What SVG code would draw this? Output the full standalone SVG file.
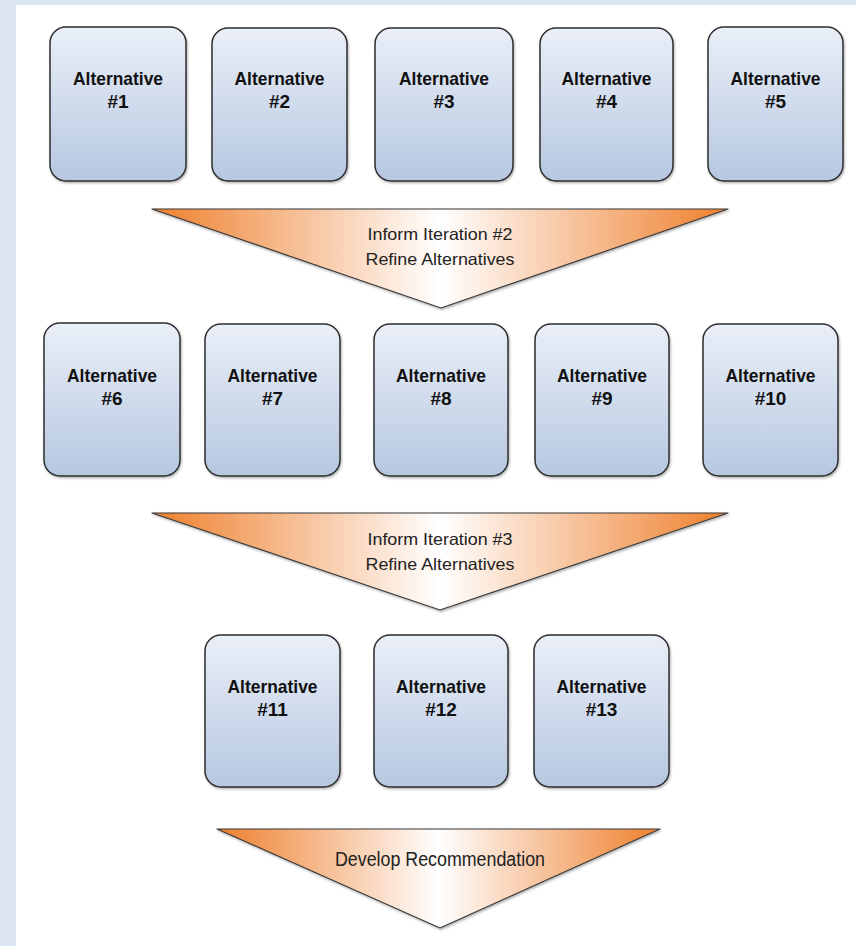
<svg xmlns="http://www.w3.org/2000/svg" width="856" height="946" viewBox="0 0 856 946">
<defs>
<linearGradient id="boxg" x1="0" y1="0" x2="0" y2="1">
<stop offset="0" stop-color="#eaeff8"/>
<stop offset="1" stop-color="#b6c7e0"/>
</linearGradient>
<linearGradient id="trig" x1="0" y1="0" x2="1" y2="0">
<stop offset="0" stop-color="#ee7f2d"/>
<stop offset="0.5" stop-color="#ffffff"/>
<stop offset="1" stop-color="#ee7f2d"/>
</linearGradient>
<filter id="sh" x="-10%" y="-10%" width="120%" height="120%">
<feDropShadow dx="1" dy="1.5" stdDeviation="1" flood-color="#000" flood-opacity="0.3"/>
</filter>
</defs>
<style>
.box{fill:url(#boxg);stroke:#2e2e2e;stroke-width:1.5;filter:url(#sh)}
.tri{fill:url(#trig);stroke:#3a3a3a;stroke-width:1.2;stroke-linejoin:round;filter:url(#sh)}
.bt{font-family:"Liberation Sans",Arial,sans-serif;font-weight:bold;font-size:19px;fill:#111;text-anchor:middle}
.tt{font-family:"Liberation Sans",Arial,sans-serif;font-size:16.5px;fill:#222;text-anchor:middle}
.dt{font-family:"Liberation Sans",Arial,sans-serif;font-size:19.5px;fill:#222;text-anchor:middle}
</style>
<rect x="0" y="0" width="856" height="946" fill="#dce6f2"/>
<rect x="16" y="5" width="840" height="941" fill="#ffffff"/>

<g id="connectors">
<g id="step1"><polygon class="tri" points="152,209 728,209 441,308"/>
<text class="tt" x="440" y="240" textLength="145" lengthAdjust="spacingAndGlyphs">Inform Iteration #2</text>
<text class="tt" x="440" y="265" textLength="149" lengthAdjust="spacingAndGlyphs">Refine Alternatives</text></g>
<g id="step2"><polygon class="tri" points="152,513 728,513 440,610"/>
<text class="tt" x="440" y="545" textLength="145" lengthAdjust="spacingAndGlyphs">Inform Iteration #3</text>
<text class="tt" x="440" y="570" textLength="149" lengthAdjust="spacingAndGlyphs">Refine Alternatives</text></g>
<g id="step3"><polygon class="tri" points="217,829 660,829 440,928"/>
<text class="dt" x="440" y="866" textLength="210" lengthAdjust="spacingAndGlyphs">Develop Recommendation</text></g>
</g>

<g id="alt1"><rect class="box" x="50" y="27" width="136" height="154" rx="16"/><text class="bt" x="118" y="85" textLength="90" lengthAdjust="spacingAndGlyphs">Alternative</text><text class="bt" x="118" y="108">#1</text></g>
<g id="alt2"><rect class="box" x="212" y="28" width="135" height="153" rx="16"/><text class="bt" x="279.5" y="85" textLength="90" lengthAdjust="spacingAndGlyphs">Alternative</text><text class="bt" x="279.5" y="108">#2</text></g>
<g id="alt3"><rect class="box" x="375" y="28" width="138" height="153" rx="16"/><text class="bt" x="444" y="85" textLength="90" lengthAdjust="spacingAndGlyphs">Alternative</text><text class="bt" x="444" y="108">#3</text></g>
<g id="alt4"><rect class="box" x="540" y="28" width="133" height="153" rx="16"/><text class="bt" x="606.5" y="85" textLength="90" lengthAdjust="spacingAndGlyphs">Alternative</text><text class="bt" x="606.5" y="108">#4</text></g>
<g id="alt5"><rect class="box" x="708" y="27" width="135" height="154" rx="16"/><text class="bt" x="775.5" y="85" textLength="90" lengthAdjust="spacingAndGlyphs">Alternative</text><text class="bt" x="775.5" y="108">#5</text></g>

<g id="alt6"><rect class="box" x="44" y="323" width="136" height="153" rx="16"/><text class="bt" x="112" y="382" textLength="90" lengthAdjust="spacingAndGlyphs">Alternative</text><text class="bt" x="112" y="405">#6</text></g>
<g id="alt7"><rect class="box" x="205" y="324" width="135" height="152" rx="16"/><text class="bt" x="272.5" y="382" textLength="90" lengthAdjust="spacingAndGlyphs">Alternative</text><text class="bt" x="272.5" y="405">#7</text></g>
<g id="alt8"><rect class="box" x="374" y="324" width="134" height="152" rx="16"/><text class="bt" x="441" y="382" textLength="90" lengthAdjust="spacingAndGlyphs">Alternative</text><text class="bt" x="441" y="405">#8</text></g>
<g id="alt9"><rect class="box" x="535" y="324" width="134" height="152" rx="16"/><text class="bt" x="602" y="382" textLength="90" lengthAdjust="spacingAndGlyphs">Alternative</text><text class="bt" x="602" y="405">#9</text></g>
<g id="alt10"><rect class="box" x="703" y="324" width="135" height="152" rx="16"/><text class="bt" x="770.5" y="382" textLength="90" lengthAdjust="spacingAndGlyphs">Alternative</text><text class="bt" x="770.5" y="405">#10</text></g>

<g id="alt11"><rect class="box" x="205" y="635" width="135" height="152" rx="16"/><text class="bt" x="272.5" y="693" textLength="90" lengthAdjust="spacingAndGlyphs">Alternative</text><text class="bt" x="272.5" y="716">#11</text></g>
<g id="alt12"><rect class="box" x="374" y="635" width="134" height="152" rx="16"/><text class="bt" x="441" y="693" textLength="90" lengthAdjust="spacingAndGlyphs">Alternative</text><text class="bt" x="441" y="716">#12</text></g>
<g id="alt13"><rect class="box" x="534" y="635" width="135" height="152" rx="16"/><text class="bt" x="601.5" y="693" textLength="90" lengthAdjust="spacingAndGlyphs">Alternative</text><text class="bt" x="601.5" y="716">#13</text></g>
</svg>
